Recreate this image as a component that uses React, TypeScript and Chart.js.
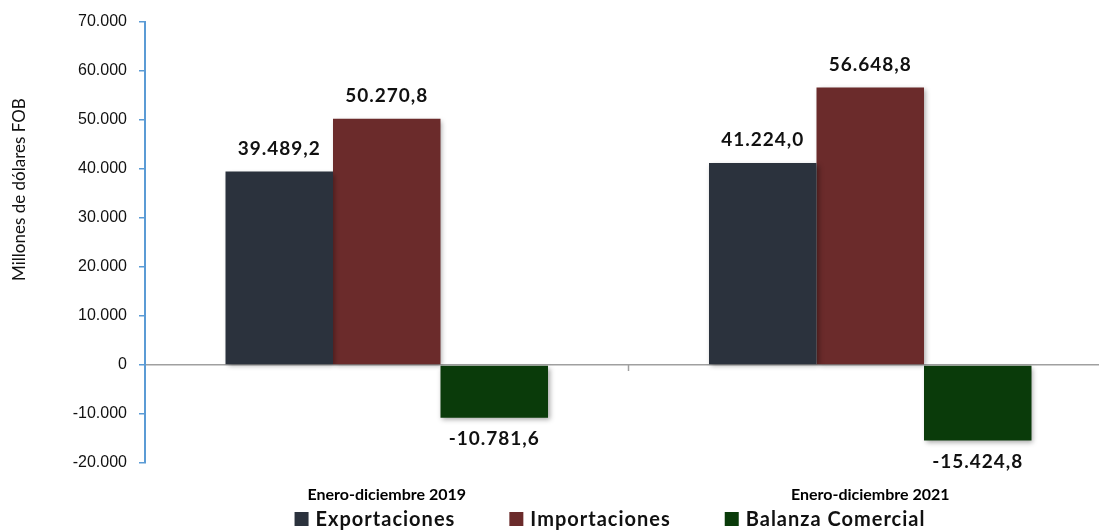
import React, { useEffect, useRef } from "react";
import { Chart, registerables } from "chart.js";

Chart.register(...registerables);

const categories = ["Enero-diciembre 2019", "Enero-diciembre 2021"];
const seriesNames = ["Exportaciones", "Importaciones", "Balanza Comercial"];
const exportaciones = [39489.2, 41224.0];
const importaciones = [50270.8, 56648.8];
const balanza = [-10781.6, -15424.8];
const seriesColors = ["#2b323d", "#6b2b2b", "#0a3b0a"];
const yMin = -20000;
const yMax = 70000;
const yStep = 10000;
const yTitle = "Millones de dólares FOB";

const fmt = (v: number, dec: number) =>
  v.toLocaleString("de-DE", { minimumFractionDigits: dec, maximumFractionDigits: dec });

const shadowPlugin = {
  id: "barShadow",
  beforeDatasetsDraw(chart: any) {
    const ctx = chart.ctx;
    ctx.save();
    ctx.shadowColor = "rgba(0,0,0,0.35)";
    ctx.shadowBlur = 5;
    ctx.shadowOffsetX = 2;
    ctx.shadowOffsetY = 2;
  },
  afterDatasetsDraw(chart: any) {
    chart.ctx.restore();
  },
};

const valueLabelPlugin = {
  id: "valueLabels",
  afterDraw(chart: any) {
    const ctx = chart.ctx;
    ctx.save();
    ctx.font = "bold 19px Lato";
    (ctx as any).letterSpacing = "1px";
    ctx.fillStyle = "#111";
    ctx.textAlign = "center";
    ctx.textBaseline = "middle";
    chart.data.datasets.forEach((ds: any, i: number) => {
      const meta = chart.getDatasetMeta(i);
      meta.data.forEach((el: any, j: number) => {
        const v = ds.data[j];
        const y = v >= 0 ? el.y - 23 : el.y + 21;
        ctx.fillText(fmt(v, 1), el.x, y);
      });
    });
    ctx.restore();
  },
};

const extrasPlugin = {
  id: "extras",
  afterDraw(chart: any) {
    const ctx = chart.ctx;
    const xs = chart.scales.x;
    const ys = chart.scales.y;
    const area = chart.chartArea;
    const zeroY = ys.getPixelForValue(0);
    ctx.save();
    ctx.strokeStyle = "#a0a0a0";
    ctx.lineWidth = 1.5;
    for (let i = 0; i < categories.length - 1; i++) {
      const mx = (xs.getPixelForValue(i) + xs.getPixelForValue(i + 1)) / 2;
      ctx.beginPath();
      ctx.moveTo(mx, zeroY);
      ctx.lineTo(mx, zeroY + 6);
      ctx.stroke();
    }
    ctx.translate(20, area.top + (area.bottom - area.top) * 0.38);
    ctx.rotate(-Math.PI / 2);
    ctx.font = "17px Lato";
    ctx.fillStyle = "#111";
    ctx.textAlign = "center";
    ctx.textBaseline = "middle";
    ctx.fillText(yTitle, 0, 0);
    ctx.restore();

    ctx.save();
    ctx.font = "bold 20px Lato";
    (ctx as any).letterSpacing = "1px";
    ctx.textBaseline = "middle";
    ctx.textAlign = "left";
    const box = 14;
    const gapBox = 7;
    const gapItem = 54;
    const widths = seriesNames.map((n) => box + gapBox + ctx.measureText(n).width);
    const total = widths.reduce((a, b) => a + b, 0) + gapItem * (seriesNames.length - 1);
    let x = 610 - total / 2;
    const ly = chart.height - 12;
    seriesNames.forEach((n, i) => {
      ctx.fillStyle = seriesColors[i];
      ctx.fillRect(x, ly - box / 2, box, box);
      ctx.fillStyle = "#111";
      ctx.fillText(n, x + box + gapBox, ly + 1);
      x += widths[i] + gapItem;
    });
    ctx.restore();
  },
};

export default function App() {
  const ref = useRef<HTMLCanvasElement>(null);
  useEffect(() => {
    if (!ref.current) return;
    const chart = new Chart(ref.current, {
      type: "bar",
      data: {
        labels: categories,
        datasets: [
          { label: seriesNames[0], data: exportaciones, backgroundColor: seriesColors[0] },
          { label: seriesNames[1], data: importaciones, backgroundColor: seriesColors[1] },
          { label: seriesNames[2], data: balanza, backgroundColor: seriesColors[2] },
        ],
      },
      options: {
        responsive: false,
        animation: false,
        layout: { padding: { top: 22, left: 0, right: 0, bottom: 0 } },
        datasets: { bar: { categoryPercentage: 0.667, barPercentage: 1 } },
        plugins: { legend: { display: false }, tooltip: { enabled: false } },
        scales: {
          x: {
            grid: { display: false },
            border: { display: false },
            ticks: { font: { family: "Lato", weight: "bold", size: 16 }, color: "#000", padding: 14 },
            afterFit: (s: any) => {
              s.height = 68;
            },
          },
          y: {
            min: yMin,
            max: yMax,
            ticks: {
              stepSize: yStep,
              padding: 12,
              color: "#111",
              font: { family: "Liberation Sans", size: 16 },
              callback: (v: any) => fmt(Number(v), 0),
            },
            grid: {
              color: (c: any) => (c.tick && c.tick.value === 0 ? "#a0a0a0" : "rgba(0,0,0,0)"),
              lineWidth: 1.5,
              tickColor: "#5b9bd5",
              tickLength: 6,
            },
            border: { display: true, color: "#5b9bd5", width: 2 },
            afterFit: (s: any) => {
              s.width = 145;
            },
          },
        },
      },
      plugins: [shadowPlugin, valueLabelPlugin, extrasPlugin],
    });
    return () => chart.destroy();
  }, []);
  return (
    <div
      style={{
        position: "fixed",
        left: 0,
        top: 0,
        width: 1099,
        height: 531,
        overflow: "hidden",
        background: "#fff",
      }}
    >
      <canvas ref={ref} width={1112} height={531} style={{ display: "block" }} />
    </div>
  );
}
